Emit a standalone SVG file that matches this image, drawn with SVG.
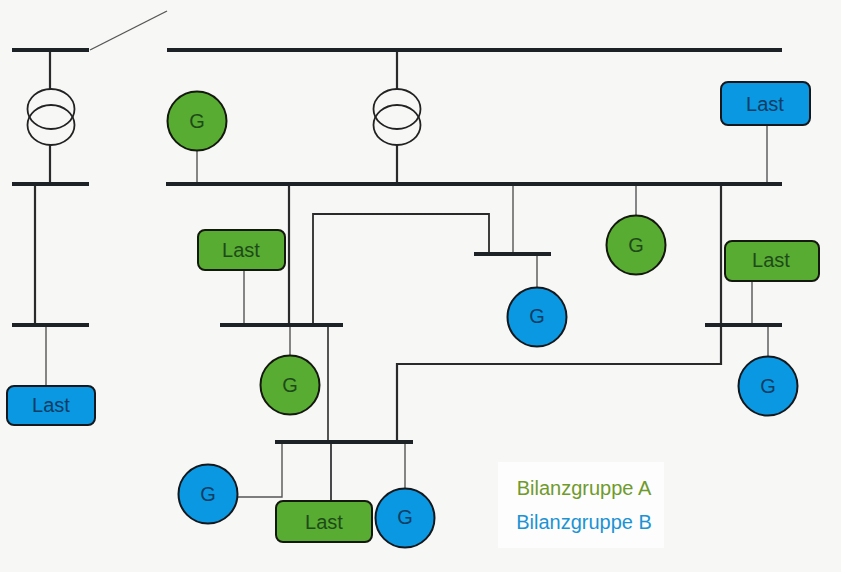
<svg xmlns="http://www.w3.org/2000/svg" width="841" height="572" viewBox="0 0 841 572">
<style>
.bus{stroke:#1c2226;stroke-width:4;fill:none}
.w{stroke:#2a2a2a;stroke-width:2.2;fill:none}
.t{stroke:#555;stroke-width:1.4;fill:none}
.tr{stroke:#222;stroke-width:1.8;fill:none}
.g{fill:#58ac32;stroke:#14180f;stroke-width:2}
.b{fill:#0a98e2;stroke:#14181c;stroke-width:2}
text{font-family:"Liberation Sans",Arial,sans-serif;text-anchor:middle}
.l{font-size:20px;fill:#1e4a1a}
.lb{font-size:20px;fill:#0d3d63}
</style>
<rect width="841" height="572" fill="#f7f7f6"/>
<rect x="498" y="462" width="166" height="86" fill="#fdfdfd"/>
<g id="connectors">
<path class="t" d="M90 50L167 11"/>
<path class="w" d="M50 50V90M50 145V184M397 50V90M397 145V184"/>
<path class="w" d="M35 184V325M289 184V325"/>
<path class="t" d="M46 325V386M197 150V184M244 270V325M290 325V356M513 184V254M636 184V216M537 254V288M767 125V184M752 281V325M768 325V358"/>
<path class="w" d="M721 184V364H397V442"/>
<path class="w" style="stroke-width:1.8" d="M313 325V214H489V254"/>
<path class="w" style="stroke-width:1.6" d="M328 325V442"/>
<path class="t" d="M282 442V497H238M405 442V488"/>
<path class="w" style="stroke-width:1.7" d="M331 442V501"/>
<path class="bus" d="M12 50H89M167 50H782M12 184H89M166 184H782M12 325H89M220 325H343M474 254H551M705 325H782M275 442H413"/>
</g>
<g id="trafo1"><ellipse class="tr" cx="51" cy="109" rx="23.5" ry="20"/><ellipse class="tr" cx="51" cy="125" rx="23.5" ry="20"/></g>
<g id="trafo2"><ellipse class="tr" cx="397" cy="109" rx="23.5" ry="20"/><ellipse class="tr" cx="397" cy="125" rx="23.5" ry="20"/></g>
<g id="g1"><circle class="g" cx="197" cy="121" r="29.5"/><text class="l" x="197" y="128">G</text></g>
<g id="g2"><circle class="g" cx="636" cy="245" r="29.5"/><text class="l" x="636" y="252">G</text></g>
<g id="g3"><circle class="g" cx="290" cy="385" r="29.5"/><text class="l" x="290" y="392">G</text></g>
<g id="g4"><circle class="b" cx="537" cy="317" r="29.5"/><text class="lb" x="537" y="323">G</text></g>
<g id="g5"><circle class="b" cx="768" cy="386" r="29.5"/><text class="lb" x="768" y="393">G</text></g>
<g id="g6"><circle class="b" cx="208" cy="494" r="29.5"/><text class="lb" x="208" y="501">G</text></g>
<g id="g7"><circle class="b" cx="405" cy="518" r="29.5"/><text class="lb" x="405" y="524">G</text></g>
<g id="last1"><rect class="b" x="721" y="82" width="89" height="43" rx="7"/><text class="lb" x="765" y="111">Last</text></g>
<g id="last2"><rect class="g" x="198" y="230" width="87" height="40" rx="7"/><text class="l" x="241" y="257">Last</text></g>
<g id="last3"><rect class="g" x="725" y="241" width="94" height="40" rx="7"/><text class="l" x="771" y="267">Last</text></g>
<g id="last4"><rect class="b" x="7" y="386" width="88" height="39" rx="7"/><text class="lb" x="51" y="412">Last</text></g>
<g id="last5"><rect class="g" x="276" y="501" width="96" height="41" rx="7"/><text class="l" x="324" y="529">Last</text></g>
<g id="legend">
<text x="584" y="495" style="font-size:20px;fill:#6f9a2c">Bilanzgruppe A</text>
<text x="584" y="529" style="font-size:20px;fill:#1b93d4">Bilanzgruppe B</text>
</g>
</svg>
